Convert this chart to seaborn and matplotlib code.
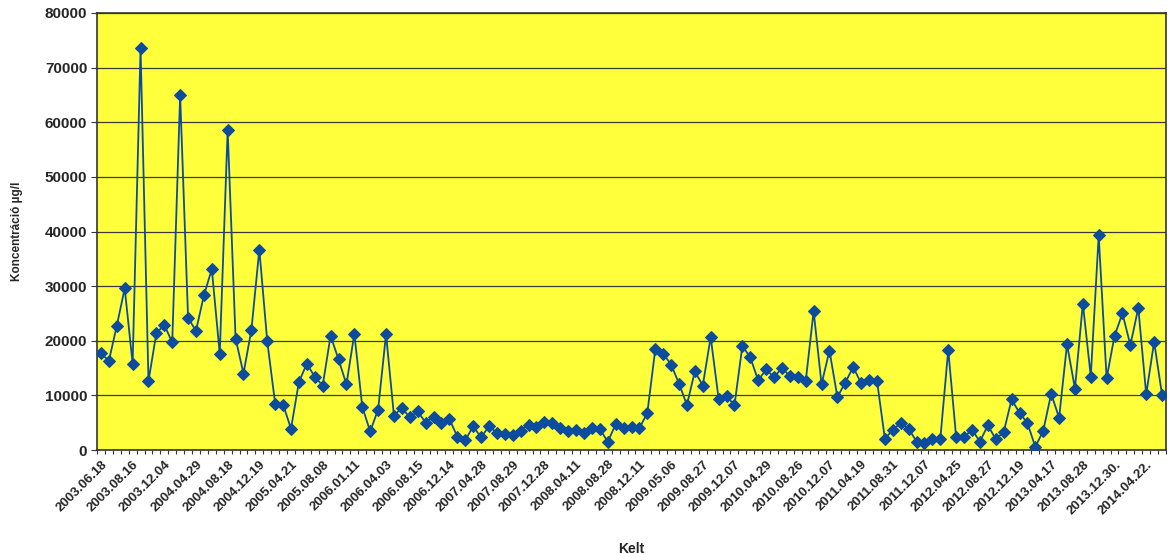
import matplotlib
matplotlib.use("Agg")
import matplotlib.pyplot as plt
import seaborn as sns
import numpy as np
import pandas as pd

# Measured concentrations (µg/l), one value per sampling date, in order
concentration = [
    17700, 16300, 22750, 29600, 15800, 73600, 12600, 21400, 22900, 19700,
    65000, 24200, 21800, 28300, 33100, 17600, 58600, 20400, 14000, 22000,
    36700, 19900, 8500, 8300, 3900, 12450, 15800, 13400, 11800, 20900,
    16600, 12000, 21300, 7900, 3400, 7400, 21200, 6300, 7700, 6000,
    7100, 5000, 6100, 5000, 5700, 2450, 1750, 4350, 2300, 4350,
    3150, 2950, 2750, 3550, 4650, 4150, 5150, 4900, 4050, 3550,
    3650, 3200, 3950, 3900, 1450, 4750, 4050, 4150, 4000, 6800,
    18400, 17650, 15650, 12150, 8250, 14400, 11800, 20650, 9400, 9950,
    8150, 19050, 16950, 12750, 14750, 13300, 15050, 13500, 13350, 12600,
    25400, 12050, 18200, 9700, 12350, 15200, 12200, 12900, 12700, 2050,
    3700, 4950, 3900, 1550, 1250, 2050, 2050, 18300, 2350, 2400,
    3700, 1550, 4500, 2000, 3250, 9250, 6800, 4950, 550, 3550,
    10300, 5900, 19350, 11250, 26800, 13450, 39300, 13100, 20900, 25000,
    19200, 26000, 10200, 19800, 10100,
]

# Dates shown on the category axis (every fourth sample)
date_labels = [
    "2003.06.18", "2003.08.16", "2003.12.04", "2004.04.29", "2004.08.18",
    "2004.12.19", "2005.04.21", "2005.08.08", "2006.01.11", "2006.04.03",
    "2006.08.15", "2006.12.14", "2007.04.28", "2007.08.29", "2007.12.28",
    "2008.04.11", "2008.08.28", "2008.12.11", "2009.05.06", "2009.08.27",
    "2009.12.07", "2010.04.29", "2010.08.26", "2010.12.07", "2011.04.19",
    "2011.08.31", "2011.12.07", "2012.04.25", "2012.08.27", "2012.12.19",
    "2013.04.17", "2013.08.28", "2013.12.30.", "2014.04.22.",
]
label_step = 4

y_ticks = [0, 10000, 20000, 30000, 40000, 50000, 60000, 70000, 80000]

df = pd.DataFrame({"sample": np.arange(len(concentration)),
                   "conc": concentration})

sns.set_style("ticks")
plt.rcParams["font.family"] = ["Liberation Sans", "DejaVu Sans"]

fig = plt.figure(figsize=(11.73, 5.54), dpi=100)
ax = fig.add_axes([97 / 1173, 1 - 450 / 554, (1166 - 97) / 1173, (450 - 13) / 554])
ax.set_facecolor("#FFFF3C")

line_blue = "#0B4C9E"
sns.lineplot(data=df, x="sample", y="conc", ax=ax, color=line_blue,
             linewidth=1.3, marker="D", markersize=6,
             markeredgecolor=line_blue, markerfacecolor=line_blue, zorder=3)

n = len(concentration)
ax.set_xlim(-0.5, n - 0.5)
ax.set_ylim(0, 80000)

# horizontal grid lines
ax.set_yticks(y_ticks)
ax.set_yticklabels([str(v) for v in y_ticks], fontsize=11, fontweight="bold")
ax.yaxis.grid(True, color="#3a3a3a", linewidth=0.9)
ax.xaxis.grid(False)
ax.set_axisbelow(True)

# category labels every fourth sample, tick marks between every sample
pos = np.arange(0, n, label_step)[: len(date_labels)]
ax.set_xticks(pos)
ax.set_xticklabels(date_labels, rotation=45, ha="right",
                   rotation_mode="anchor", fontsize=9.5, fontweight="bold")
ax.tick_params(axis="x", which="major", length=0, pad=6)
ax.set_xticks(np.arange(-0.5, n, 1), minor=True)
ax.tick_params(axis="x", which="minor", length=3, width=0.8, color="#333333")
ax.tick_params(axis="y", length=4, width=0.8, color="#333333", pad=3)

for side in ["left", "right", "top", "bottom"]:
    ax.spines[side].set_visible(True)
    ax.spines[side].set_color("#333333")
    ax.spines[side].set_linewidth(1.2)

ax.set_xlabel("Kelt", fontsize=10, fontweight="bold", labelpad=18)
ax.set_ylabel("Koncentráció µg/l", fontsize=8.5, fontweight="bold", labelpad=16)

fig.savefig("out.png", dpi=100, facecolor="white")
